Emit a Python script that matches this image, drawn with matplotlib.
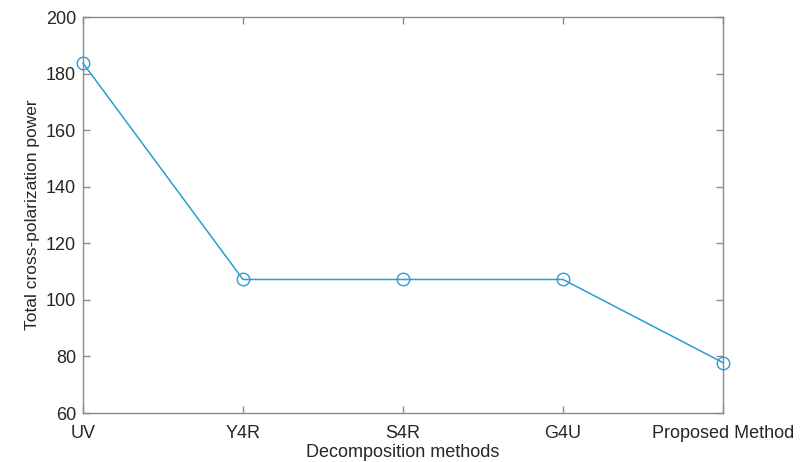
import matplotlib
matplotlib.use('Agg')
import matplotlib.pyplot as plt

methods = ['UV', 'Y4R', 'S4R', 'G4U', 'Proposed Method']
power = [183.7, 107.2, 107.2, 107.2, 77.8]
y_ticks = [60, 80, 100, 120, 140, 160, 180, 200]

plt.rcParams['font.family'] = ['Liberation Sans', 'DejaVu Sans']

fig = plt.figure(figsize=(8.02, 4.62), dpi=100)
ax = fig.add_axes([83 / 802, 1 - 413 / 462, 640 / 802, 396 / 462])

x = list(range(len(methods)))
ax.plot(x, power, color='#2a9cd6', linewidth=1.1, marker='o', markersize=9,
        markerfacecolor='none', markeredgecolor='#2a9cd6', markeredgewidth=1.0,
        clip_on=False, zorder=3)

ax.set_xlim(0, len(methods) - 1)
ax.set_ylim(60, 200)
ax.set_xticks(x)
ax.set_xticklabels(methods)
ax.set_yticks(y_ticks)

for s in ax.spines.values():
    s.set_color('#8a8a8a')
    s.set_linewidth(1.0)
ax.tick_params(direction='in', length=5, width=1.0, color='#8a8a8a',
               top=True, right=True, labelsize=13, labelcolor='#262626')
ax.tick_params(axis='x', pad=9)
ax.tick_params(axis='y', pad=5)

ax.set_xlabel('Decomposition methods', fontsize=13, color='#262626', labelpad=1)
ax.set_ylabel('Total cross-polarization power', fontsize=12.5, color='#262626',
              labelpad=4)

fig.savefig('out.png', dpi=100)
